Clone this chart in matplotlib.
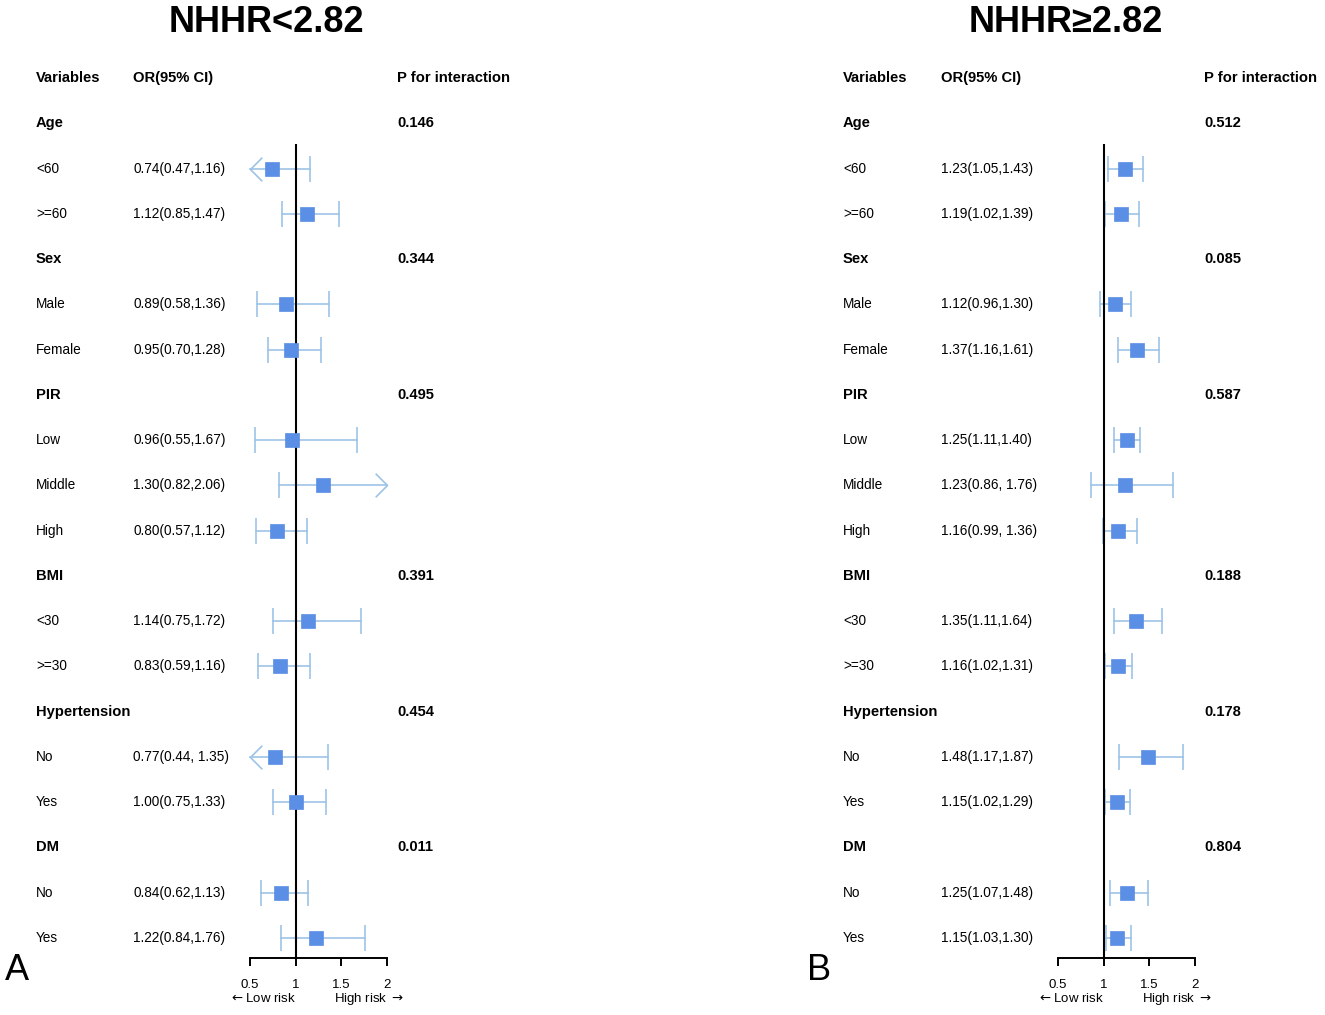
import matplotlib
matplotlib.use("Agg")
import matplotlib.pyplot as plt
import matplotlib.transforms as mtransforms
from matplotlib.path import Path

plt.rcParams["font.family"] = ["Liberation Sans", "DejaVu Sans"]

# ---- data ----
groups = ["Age", "Sex", "PIR", "BMI", "Hypertension", "DM"]
subgroups = [["<60", ">=60"], ["Male", "Female"], ["Low", "Middle", "High"],
             ["<30", ">=30"], ["No", "Yes"], ["No", "Yes"]]

left_or = [0.74, 1.12, 0.89, 0.95, 0.96, 1.30, 0.80, 1.14, 0.83, 0.77, 1.00, 0.84, 1.22]
left_lo = [0.47, 0.85, 0.58, 0.70, 0.55, 0.82, 0.57, 0.75, 0.59, 0.44, 0.75, 0.62, 0.84]
left_hi = [1.16, 1.47, 1.36, 1.28, 1.67, 2.06, 1.12, 1.72, 1.16, 1.35, 1.33, 1.13, 1.76]
left_p = ["0.146", "0.344", "0.495", "0.391", "0.454", "0.011"]
left_spaced = [9]          # rows printed with ", " in the CI text

right_or = [1.23, 1.19, 1.12, 1.37, 1.25, 1.23, 1.16, 1.35, 1.16, 1.48, 1.15, 1.25, 1.15]
right_lo = [1.05, 1.02, 0.96, 1.16, 1.11, 0.86, 0.99, 1.11, 1.02, 1.17, 1.02, 1.07, 1.03]
right_hi = [1.43, 1.39, 1.30, 1.61, 1.40, 1.76, 1.36, 1.64, 1.31, 1.87, 1.29, 1.48, 1.30]
right_p = ["0.512", "0.085", "0.587", "0.188", "0.178", "0.804"]
right_spaced = [5, 6]

xticks = [0.5, 1, 1.5, 2]
xtick_labels = ["0.5", "1", "1.5", "2"]

CI_COLOR = "#9dc3e6"
BOX_COLOR = "#5b8fe6"
FS = 9.8
FS_B = 10.6

W, H = 1325, 1015
ROW0, ROWH = 78, 45.26   # pixel y of header row, row spacing
AXIS_Y = 958

LEFT_ARROW = Path([(1, 1), (0, 0), (1, -1)], [Path.MOVETO, Path.LINETO, Path.LINETO])
RIGHT_ARROW = Path([(-1, 1), (0, 0), (-1, -1)], [Path.MOVETO, Path.LINETO, Path.LINETO])

fig = plt.figure(figsize=(W / 100, H / 100), dpi=100)


def panel(x0, title, title_x, letter, letter_x, cols, ors, los, his, pvals, spaced):
    ax = fig.add_axes([x0 / W, (H - AXIS_Y) / H, 137 / W, AXIS_Y / H])
    ax.set_xlim(0.5, 2)
    ax.set_ylim((AXIS_Y - ROW0) / ROWH, -ROW0 / ROWH)
    for s in ["top", "left", "right"]:
        ax.spines[s].set_visible(False)
    ax.spines["bottom"].set_linewidth(1.4)
    ax.set_yticks([])
    ax.set_xticks(xticks)
    ax.set_xticklabels(xtick_labels, fontsize=9.5)
    ax.tick_params(axis="x", direction="out", length=6, width=1.4, pad=9)
    ax.patch.set_visible(False)

    tr = mtransforms.blended_transform_factory(fig.transFigure, ax.transData)
    cx_var, cx_or, cx_p = [c / W for c in cols]

    ax.text(cx_var, 0, "Variables", transform=tr, fontsize=FS_B, fontweight="bold", va="center")
    ax.text(cx_or, 0, "OR(95% CI)", transform=tr, fontsize=FS_B, fontweight="bold", va="center")
    ax.text(cx_p, 0, "P for interaction", transform=tr, fontsize=FS_B, fontweight="bold", va="center")

    row = 1
    k = 0
    for g, subs, p in zip(groups, subgroups, pvals):
        ax.text(cx_var, row, g, transform=tr, fontsize=FS_B, fontweight="bold", va="center")
        ax.text(cx_p, row, p, transform=tr, fontsize=FS_B, fontweight="bold", va="center")
        row += 1
        for s in subs:
            o, lo, hi = ors[k], los[k], his[k]
            sep = ", " if k in spaced else ","
            ax.text(cx_var, row, s, transform=tr, fontsize=FS, va="center")
            ax.text(cx_or, row, f"{o:.2f}({lo:.2f}{sep}{hi:.2f})", transform=tr,
                    fontsize=FS, va="center")
            a, b = max(lo, 0.5), min(hi, 2)
            ax.plot([a, b], [row, row], color=CI_COLOR, lw=1.2, clip_on=False, zorder=2)
            if lo < 0.5:
                ax.plot([a], [row], marker=LEFT_ARROW, ms=17, mfc="none", mec=CI_COLOR,
                        mew=1.2, clip_on=False, zorder=2)
            else:
                ax.plot([a], [row], marker="|", ms=18.5, mec=CI_COLOR, mew=1.2,
                        clip_on=False, zorder=2)
            if hi > 2:
                ax.plot([b], [row], marker=RIGHT_ARROW, ms=17, mfc="none", mec=CI_COLOR,
                        mew=1.2, clip_on=False, zorder=2)
            else:
                ax.plot([b], [row], marker="|", ms=18.5, mec=CI_COLOR, mew=1.2,
                        clip_on=False, zorder=2)
            ax.plot([o], [row], marker="s", ms=10, mfc=BOX_COLOR, mec=BOX_COLOR,
                    mew=0.5, clip_on=False, zorder=4)
            row += 1
            k += 1

    ax.vlines(1, 1.45, (AXIS_Y - ROW0) / ROWH, color="black", lw=1.5, zorder=3)

    btr = mtransforms.blended_transform_factory(ax.transData, fig.transFigure)
    ax.text(1, 1 - 999 / H, r"$\leftarrow$Low risk", transform=btr, ha="right", va="center",
            fontsize=9.5)
    ax.text(1.42, 1 - 999 / H, r"High risk $\rightarrow$", transform=btr, ha="left",
            va="center", fontsize=9.5)

    fig.text(title_x / W, 1 - 22 / H, title, fontsize=26, fontweight="bold",
             ha="center", va="center")
    fig.text(letter_x / W, 1 - 970 / H, letter, fontsize=26, ha="left", va="center")


panel(250, "NHHR<2.82", 266, "A", 5, (36, 133, 397),
      left_or, left_lo, left_hi, left_p, left_spaced)
panel(1058, "NHHR\u22652.82", 1066, "B", 807, (843, 941, 1204),
      right_or, right_lo, right_hi, right_p, right_spaced)

fig.savefig("out.png", dpi=100, facecolor="white")
